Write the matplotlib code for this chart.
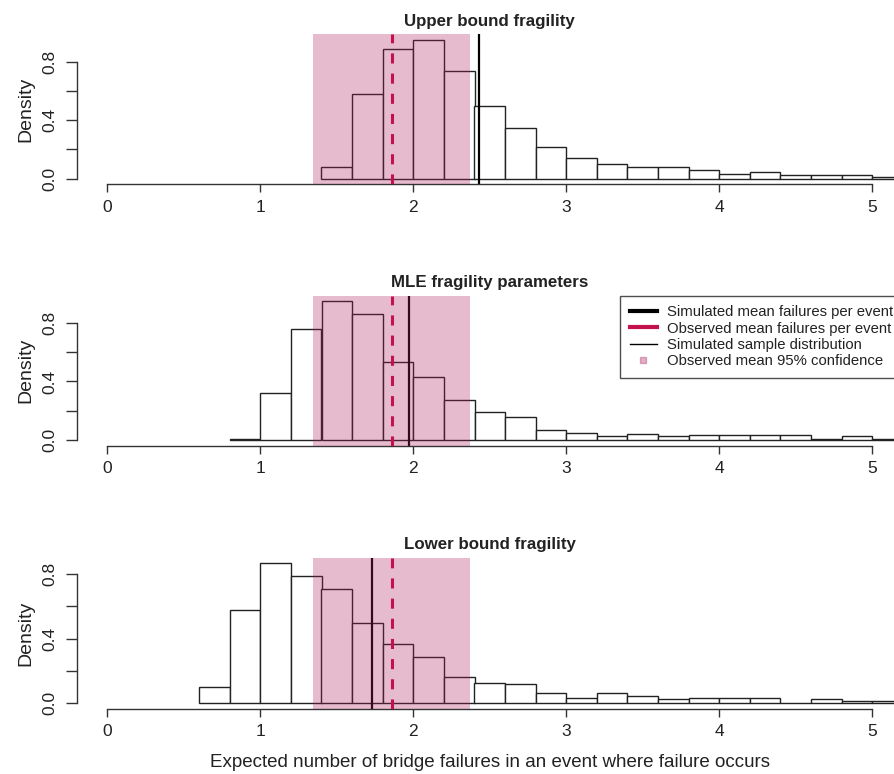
import matplotlib
matplotlib.use("Agg")
import matplotlib.pyplot as plt
from matplotlib.lines import Line2D
import numpy as np

plt.rcParams['font.family'] = ['Liberation Sans', 'DejaVu Sans']

# ---------------- data ----------------
bin_width = 0.2
titles = ["Upper bound fragility", "MLE fragility parameters", "Lower bound fragility"]

upper_start = 1.4
upper_density = [0.078, 0.582, 0.886, 0.951, 0.738, 0.498, 0.350, 0.219, 0.145, 0.102,
                 0.077, 0.077, 0.059, 0.034, 0.045, 0.025, 0.025, 0.027, 0.014]

mle_start = 0.8
mle_density = [0.005, 0.319, 0.759, 0.947, 0.861, 0.531, 0.430, 0.276, 0.190, 0.160,
               0.068, 0.052, 0.027, 0.045, 0.027, 0.036, 0.036, 0.036, 0.036, 0.005,
               0.027, 0.005]

lower_start = 0.6
lower_density = [0.099, 0.578, 0.868, 0.790, 0.706, 0.498, 0.368, 0.284, 0.165, 0.128,
                 0.121, 0.062, 0.035, 0.062, 0.047, 0.029, 0.035, 0.035, 0.035, 0.0,
                 0.029, 0.014, 0.014]

sim_means = [2.431, 1.970, 1.732]
obs_mean = 1.859
obs_ci = [1.343, 2.373]

x_ticks = [0, 1, 2, 3, 4, 5]
y_ticks = [0.0, 0.2, 0.4, 0.6, 0.8]
y_ticklabels = ["0.0", "", "0.4", "", "0.8"]

xlabel = "Expected number of bridge failures in an event where failure occurs"
ylabel = "Density"
legend_labels = ["Simulated mean failures per event", "Observed mean failures per event",
                 "Simulated sample distribution", "Observed mean 95% confidence"]

# ---------------- styles ----------------
W, H = 894, 774
fig = plt.figure(figsize=(W / 100, H / 100), dpi=100)
pink = (170 / 255, 30 / 255, 90 / 255)
crimson = "#C4104C"
axis_col = "#333333"
text_col = "#222222"

# plot regions in pixel coordinates (top, bottom)
panel_px = [(34, 184.3), (295.5, 445.8), (557.5, 708.8)]
left_px, right_px = 76.7, 902.9

starts = [upper_start, mle_start, lower_start]
dens = [upper_density, mle_density, lower_density]

axes = []
for i in range(3):
    top, bot = panel_px[i]
    ax = fig.add_axes([left_px / W, 1 - bot / H, (right_px - left_px) / W, (bot - top) / H])
    axes.append(ax)
    d = np.array(dens[i])
    lefts = starts[i] + bin_width * np.arange(len(d))
    ax.bar(lefts, d, width=bin_width, align='edge', facecolor='white',
           edgecolor='#222222', linewidth=1.0, zorder=1)
    ax.axvline(sim_means[i], color='black', linewidth=1.6, zorder=2)
    ax.axvspan(obs_ci[0], obs_ci[1], color=pink, alpha=0.3, linewidth=0, zorder=3)
    ax.axvline(obs_mean, color=crimson, linewidth=2.2, linestyle=(0, (3.3, 3.3)), zorder=4)

    ymax = d.max()
    ax.set_xlim(-0.2, 5.2)
    ax.set_ylim(-0.04 * ymax, 1.04 * ymax)

    for s in ['top', 'right']:
        ax.spines[s].set_visible(False)
    ax.spines['left'].set_bounds(0, 0.8)
    ax.spines['bottom'].set_bounds(0, 5)
    for s in ['left', 'bottom']:
        ax.spines[s].set_color(axis_col)
        ax.spines[s].set_linewidth(1.0)

    ax.set_xticks(x_ticks)
    ax.set_xticklabels([str(t) for t in x_ticks])
    ax.set_yticks(y_ticks)
    ax.set_yticklabels(y_ticklabels, rotation=90, va='center')
    ax.tick_params(axis='x', length=6, width=1.0, color=axis_col, labelsize=12.5,
                   labelcolor=text_col, pad=5)
    ax.tick_params(axis='y', length=8, width=1.0, color=axis_col, labelsize=12.5,
                   labelcolor=text_col, pad=6)
    ax.set_ylabel(ylabel, fontsize=14, color=text_col, labelpad=6)
    ax.set_title(titles[i], fontsize=12.2, fontweight='bold', color=text_col, pad=6)

axes[2].set_xlabel(xlabel, fontsize=13.5, color=text_col, labelpad=11)

handles = [Line2D([], [], color='black', linewidth=3),
           Line2D([], [], color=crimson, linewidth=3),
           Line2D([], [], color='black', linewidth=1),
           Line2D([], [], color=pink, alpha=0.35, marker='s', markersize=4, linestyle='none')]
leg = axes[1].legend(handles, legend_labels, loc='upper right', bbox_to_anchor=(1, 1),
                     borderaxespad=0, frameon=True, fancybox=False, fontsize=10.7,
                     labelspacing=0.16, handlelength=1.8, handletextpad=0.7,
                     borderpad=0.65, labelcolor=text_col)
leg.get_frame().set_edgecolor('#222222')
leg.get_frame().set_linewidth(1.0)
leg.set_zorder(10)

fig.savefig("out.png", dpi=100)
